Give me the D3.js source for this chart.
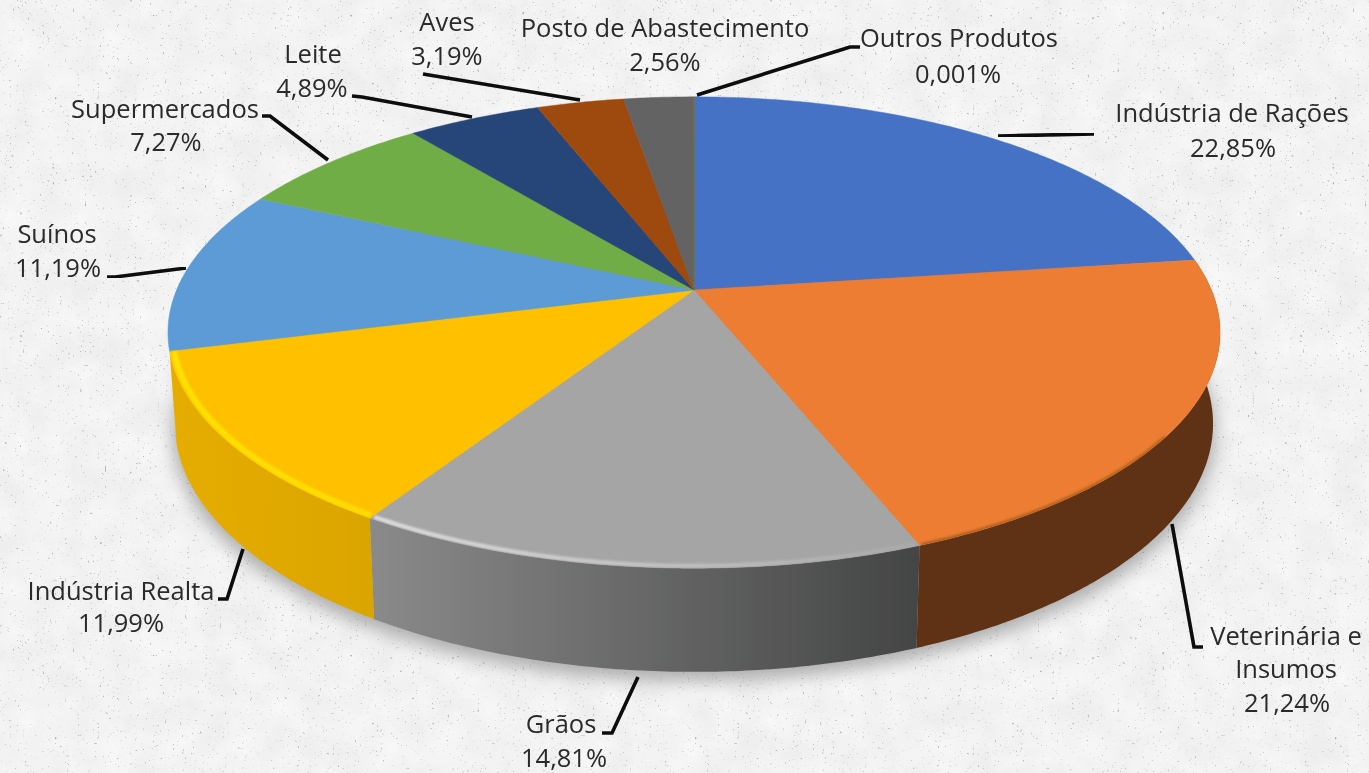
<!DOCTYPE html>
<html>
<head>
<meta charset="utf-8">
<script src="https://cdn.jsdelivr.net/npm/d3@7"></script>
<style>
    html, body { margin: 0; padding: 0; background: #f2f2f2; overflow: hidden; }
    text { font-family: "Open Sans", sans-serif; font-size: 25.5px; fill: #2b2b2b; text-anchor: middle; }
</style>
</head>
<body>
<script>
const categories = ['Indústria de Rações', 'Veterinária e Insumos', 'Grãos', 'Indústria Realta', 'Suínos',
    'Supermercados', 'Leite', 'Aves', 'Posto de Abastecimento', 'Outros Produtos'];
const values = [22.85, 21.24, 14.81, 11.99, 11.19, 7.27, 4.89, 3.19, 2.56, 0.001];
const percentLabels = ['22,85%', '21,24%', '14,81%', '11,99%', '11,19%', '7,27%', '4,89%', '3,19%', '2,56%', '0,001%'];

const topColors = ['#4472c4', '#ed7d31', '#a5a5a5', '#ffc000', '#5b9bd5', '#70ad47', '#264478', '#9e480e', '#636363', '#997300'];

const w = 1369;
const h = 773;

// perspective of the disc: top face and bottom face
const persp = 0.1805;
const topFace = { cx: 694, cy: 290, rx: 517.4, ry: 228 };
const bottomFace = { cx: 694, cy: 379, rx: 510.5, ry: 240 };

function project(face, angle, k = 1) {
    const u = Math.sin(angle) * k;
    const v = -Math.cos(angle) * k;
    const d = 1 - persp * v;
    return [face.cx + face.rx * u / d, face.cy + face.ry * v / d];
}

function arcPoints(face, a0, a1, k = 1) {
    const n = Math.max(2, Math.ceil((a1 - a0) / 0.01));
    return d3.range(n + 1).map(i => project(face, a0 + (a1 - a0) * i / n, k));
}

const line = d3.line();

const slices = d3.pie().sort(null).value(d => d)(values);

const svg = d3.select('body').append('svg')
    .attr('width', w)
    .attr('height', h)
    .style('display', 'block');

const defs = svg.append('defs');

function blur(id, sd) {
    defs.append('filter').attr('id', id)
        .attr('x', '-10%').attr('y', '-10%').attr('width', '120%').attr('height', '120%')
        .append('feGaussianBlur').attr('stdDeviation', sd);
}
blur('soft', 0.7);
blur('textSoft', 0.4);
blur('rimBlur', 1.3);
blur('shadowBlur', 9);

// paper texture
const specks = defs.append('filter').attr('id', 'specks')
    .attr('x', 0).attr('y', 0).attr('width', '100%').attr('height', '100%');
specks.append('feTurbulence').attr('type', 'fractalNoise').attr('baseFrequency', 0.4).attr('numOctaves', 3).attr('seed', 7);
specks.append('feColorMatrix').attr('values', '0 0 0 0 0.45  0 0 0 0 0.45  0 0 0 0 0.45  4 4 0 0 -5.1');

const blotches = defs.append('filter').attr('id', 'blotches')
    .attr('x', 0).attr('y', 0).attr('width', '100%').attr('height', '100%');
blotches.append('feTurbulence').attr('type', 'fractalNoise').attr('baseFrequency', 0.03).attr('numOctaves', 4).attr('seed', 3);
blotches.append('feColorMatrix').attr('values', '0 0 0 0 1  0 0 0 0 1  0 0 0 0 1  0.8 0 0 0 -0.1');

svg.append('rect').attr('width', w).attr('height', h).attr('fill', '#ededed');
svg.append('rect').attr('width', w).attr('height', h).attr('filter', 'url(#blotches)');
svg.append('rect').attr('width', w).attr('height', h).attr('filter', 'url(#specks)');

// shadow under the disc
svg.append('path')
    .attr('d', line(arcPoints({ ...bottomFace, cy: bottomFace.cy + 9, rx: bottomFace.rx + 2 }, 0, 2 * Math.PI)) + 'Z')
    .attr('fill', '#8f8f8f')
    .attr('opacity', 0.7)
    .attr('filter', 'url(#shadowBlur)');

const pieG = svg.append('g').attr('filter', 'url(#soft)');

// side wall, only the three front slices show it
const sideStyles = [
    { index: 1, from: '#5f3212', to: '#5f3212' },
    { index: 2, from: '#8a8a8a', to: '#444545' },
    { index: 3, from: '#dba500', to: '#e6ad00' }
];

sideStyles.forEach(s => {
    const d = slices[s.index];
    const upper = arcPoints(topFace, d.startAngle, d.endAngle);
    const lower = arcPoints(bottomFace, d.startAngle, d.endAngle);
    const xs = upper.concat(lower).map(p => p[0]);
    const id = 'side' + s.index;
    // gradient runs left to right on screen
    const grad = defs.append('linearGradient').attr('id', id)
        .attr('gradientUnits', 'userSpaceOnUse')
        .attr('x1', s.index === 2 ? d3.min(xs) : d3.max(xs)).attr('x2', s.index === 2 ? d3.max(xs) : d3.min(xs))
        .attr('y1', 0).attr('y2', 0);
    grad.append('stop').attr('offset', 0).attr('stop-color', s.from);
    grad.append('stop').attr('offset', 1).attr('stop-color', s.to);
    pieG.append('path')
        .attr('d', line(upper.concat(lower.reverse())) + 'Z')
        .attr('fill', `url(#${id})`);
});

// top face
pieG.selectAll('path.slice')
    .data(slices)
    .enter()
    .append('path')
    .attr('class', 'slice')
    .attr('d', d => line([[topFace.cx, topFace.cy]].concat(arcPoints(topFace, d.startAngle, d.endAngle))) + 'Z')
    .attr('fill', (d, i) => topColors[i])
    .attr('stroke', (d, i) => topColors[i])
    .attr('stroke-width', 0.5);

// bevel along the front edge, fades left to right on the grey slice
// the orange one only starts once the wall is visible below it
const rimStyles = [
    { index: 1, from: '#a55a20', to: '#b4621f', width: 3, k: 0.999, skip: 0.75 },
    { index: 2, from: '#dedede', to: '#a9a9a9', width: 4, k: 0.993, skip: 0.004 },
    { index: 3, from: '#ffe100', to: '#ffdc00', width: 6, k: 0.992, skip: 0.004 }
];
defs.append('clipPath').attr('id', 'faceClip')
    .append('path').attr('d', line(arcPoints(topFace, 0, 2 * Math.PI)) + 'Z');

const rimG = svg.append('g').attr('clip-path', 'url(#faceClip)');
rimStyles.forEach(s => {
    const d = slices[s.index];
    const pts = arcPoints(topFace, d.startAngle + s.skip, d.endAngle - 0.004, s.k);
    const xs = pts.map(p => p[0]);
    const id = 'rim' + s.index;
    const grad = defs.append('linearGradient').attr('id', id)
        .attr('gradientUnits', 'userSpaceOnUse')
        .attr('x1', d3.min(xs)).attr('x2', d3.max(xs))
        .attr('y1', 0).attr('y2', 0);
    grad.append('stop').attr('offset', 0).attr('stop-color', s.from);
    grad.append('stop').attr('offset', 1).attr('stop-color', s.to);
    rimG.append('path')
        .attr('d', line(pts))
        .attr('fill', 'none')
        .attr('stroke', `url(#${id})`)
        .attr('stroke-width', s.width)
        .attr('filter', 'url(#rimBlur)');
});

// label block per category, same order as categories
const labelLayout = [
    { lines: ['Indústria de Rações'], x: 1232, y: 122, pct: [1233, 157], leader: [[998, 136], [1094, 134]] },
    { lines: ['Veterinária e', 'Insumos'], x: 1286, y: 645, pct: [1287, 712], leader: [[1172, 524], [1194, 647], [1203, 647]] },
    { lines: ['Grãos'], x: 561, y: 733, pct: [564, 767], leader: [[638, 677], [612, 733], [602, 733]] },
    { lines: ['Indústria Realta'], x: 121, y: 600, pct: [121, 632], leader: [[243, 549], [227, 599], [218, 599]] },
    { lines: ['Suínos'], x: 57, y: 243, pct: [58, 277], leader: [[186, 268], [115, 277], [107, 277]] },
    { lines: ['Supermercados'], x: 165, y: 118, pct: [166, 151], leader: [[328, 160], [270, 116], [262, 116]] },
    { lines: ['Leite'], x: 313, y: 63, pct: [312, 97], leader: [[472, 117], [362, 97], [352, 96]] },
    { lines: ['Aves'], x: 447, y: 31, pct: [447, 65], leader: [[580, 100], [423, 74]] },
    { lines: ['Posto de Abastecimento'], x: 665, y: 37, pct: [665, 71], leader: [[659, 96], [659, 83]] },
    { lines: ['Outros Produtos'], x: 959, y: 47, pct: [958, 83], leader: [[697, 95], [850, 47], [860, 47]] }
];

svg.append('g').selectAll('path')
    .data(labelLayout)
    .enter()
    .append('path')
    .attr('d', d => line(d.leader))
    .attr('fill', 'none')
    .attr('stroke', '#0a0a0a')
    .attr('stroke-width', 3.6)
    .attr('filter', 'url(#textSoft)');

const labelG = svg.append('g').attr('filter', 'url(#textSoft)');
labelLayout.forEach((d, i) => {
    d.lines.forEach((t, j) => {
        labelG.append('text').attr('x', d.x).attr('y', d.y + j * 33).text(t);
    });
    labelG.append('text').attr('x', d.pct[0]).attr('y', d.pct[1]).text(percentLabels[i]);
});
</script>
</body>
</html>
